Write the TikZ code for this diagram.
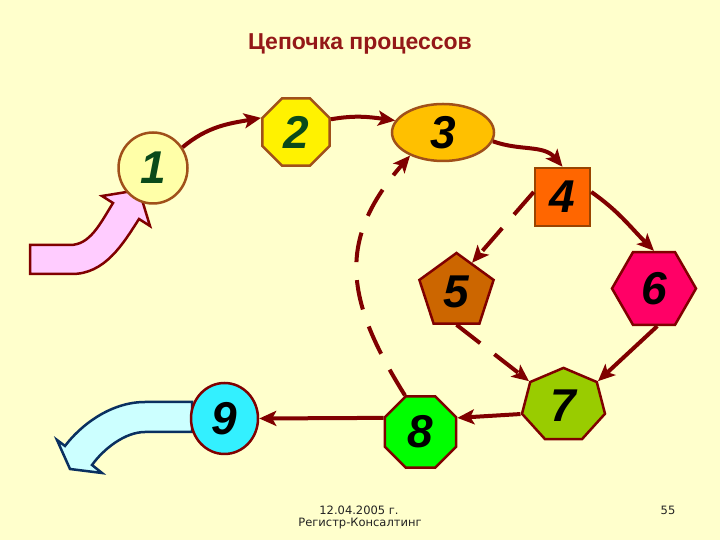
\documentclass[tikz,border=0pt]{standalone}
\usepackage{fontspec}
\setmainfont{Liberation Sans}
\newfontfamily\footfont{DejaVu Sans}
\usepackage{graphicx}
\usetikzlibrary{shapes.geometric,arrows.meta}
\definecolor{bg}{HTML}{FFFFCC}
\definecolor{titlec}{HTML}{941818}
\definecolor{arr}{HTML}{800000}
\definecolor{brd}{HTML}{800000}
\definecolor{brda}{HTML}{A0501A}
\definecolor{brdb}{HTML}{994400}
\definecolor{dgreen}{HTML}{0A4A1A}
\definecolor{cone}{HTML}{FFFFA8}
\definecolor{cthree}{HTML}{FFC000}
\definecolor{cfour}{HTML}{FF6600}
\definecolor{cfive}{HTML}{CC6600}
\definecolor{csix}{HTML}{FF0066}
\definecolor{cseven}{HTML}{99CC00}
\definecolor{ceight}{HTML}{00FF00}
\definecolor{cnine}{HTML}{33F0FF}
\definecolor{pinkf}{HTML}{FFCCFF}
\definecolor{bluef}{HTML}{CCFFFF}
\definecolor{bluel}{HTML}{0A3060}
\definecolor{footc}{HTML}{222222}
\begin{document}
\begin{tikzpicture}[x=1pt,y=1pt,
  proc/.style={draw, line width=2.5pt, inner sep=0pt,
    font=\fontsize{46}{46}\selectfont\bfseries\itshape},
  conn/.style={draw=arr, line width=4pt,
    -{Stealth[length=17pt,width=15pt,inset=4pt]}},
  dconn/.style={conn, dash pattern=on 30pt off 18pt},
  blockarrow/.style={line width=2.5pt, line join=miter},
  foot/.style={font=\footfont\fontsize{11.5}{13}\selectfont, text=footc}
]
\fill[bg] (0,0) rectangle (720,540);
\useasboundingbox (0,0) rectangle (720,540);

\node[font=\fontsize{23}{23}\selectfont\bfseries, text=titlec, anchor=base] (title) at (360,490) {Цепочка процессов};

% block arrows
\draw[blockarrow, fill=pinkf, draw=arr] (30,295) -- (70,295) .. controls (90,295) and (100,316) .. (113,337)
  -- (102,344) -- (139,350) -- (150,314) -- (139,321) .. controls (123,296) and (105,266) .. (72,266)
  -- (30,266) -- cycle;
\draw[blockarrow, fill=bluef, draw=bluel] (192,138) -- (145,138) .. controls (110,138) and (80,114) .. (65,94)
  -- (57,100) -- (70,71) -- (102,67) -- (92,75) .. controls (103.5,91) and (125,108) .. (145,108)
  -- (192,108) -- cycle;

% nodes
\node[proc, ellipse, minimum width=69, minimum height=71, fill=cone, draw=brda, text=dgreen] (n1) at (153,372) {1};
\node[proc, regular polygon, regular polygon sides=8, minimum size=73, fill=yellow, draw=brda, text=dgreen] (n2) at (296,408) {2};
\node[proc, ellipse, minimum width=102, minimum height=57, fill=cthree, draw=brda] (n3) at (443,407.5) {3};
\node[proc, rectangle, minimum width=55, minimum height=58, fill=cfour, draw=brdb] (n4) at (562.5,343) {4};
\node[proc, regular polygon, regular polygon sides=5, minimum size=78, fill=cfive, draw=brd] (n5) at (456.5,248) {5};
\node[proc, regular polygon, regular polygon sides=6, minimum size=84, fill=csix, draw=brd] (n6) at (654,251.5) {6};
\node[proc, regular polygon, regular polygon sides=7, minimum size=75, fill=cseven, draw=brd, xscale=1.135, transform shape] (n7) at (563.5,134.6) {\scalebox{0.881}[1]{7}};
\node[proc, regular polygon, regular polygon sides=8, minimum size=77, fill=ceight, draw=brd] (n8) at (420.5,108) {8};
\node[proc, ellipse, minimum width=67, minimum height=71, fill=cnine, draw=brd] (n9) at (224.5,121.5) {9};

% connectors
\draw[conn] (n1.35) to[out=40,in=190] (n2.158);
\draw[conn] (n2.20) to[out=10,in=172] (n3.166);
\draw[conn] (n3.-10) to[out=-20,in=130] (n4.north);
\draw[conn] (n4.10) to[out=-35,in=135] (n6.north);
\draw[dconn] (n4.170) -- (n5.62);
\draw[conn] (n6.-85) -- (n7.corner 7);
\draw[dconn] (n5.south) -- (n7.corner 2);
\draw[conn] (n7.corner 3) -- (n8.21);
\draw[conn] (n8.159) -- (n9.east);
\draw[dconn] (n8.113) to[out=122,in=229,looseness=1.2] (n3.215);

% footer
\node[foot] (date) at (359,30) {12.04.2005 г.};
\node[foot] (firm) at (360,16) {Регистр-Консалтинг};
\node[foot] (page) at (668,30) {55};
\end{tikzpicture}
\end{document}
